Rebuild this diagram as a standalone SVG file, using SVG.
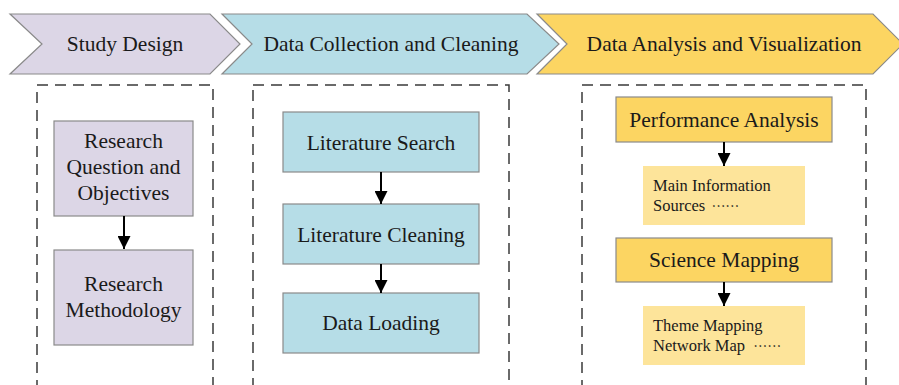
<svg xmlns="http://www.w3.org/2000/svg" width="899" height="385" viewBox="0 0 899 385">
<style>
.chev{stroke:#8a8a8a;stroke-width:1.2}
.box{stroke:#8a8a8a;stroke-width:1.2}
.dash{fill:none;stroke:#3a3a3a;stroke-width:1.5;stroke-dasharray:11 7}
.p{fill:#dcd6e6}.b{fill:#b6dde7}.y{fill:#fcd562}.ly{fill:#fde49a}
.conn line{stroke:#000;stroke-width:2}
</style>
<defs>
<marker id="ah" markerUnits="userSpaceOnUse" markerWidth="14" markerHeight="13" refX="13" refY="6.5" orient="auto">
<path d="M0,0 L13,6.5 L0,13 Z" fill="#000"/>
</marker>
</defs>
<g font-family="Liberation Serif, serif" font-size="21.5" text-anchor="middle" fill="#1a1a1a">
<g id="phase1"><polygon class="chev p" points="10,14 210,14 240,44 210,74 10,74 42,44"/><text x="125" y="51">Study Design</text></g>
<g id="phase2"><polygon class="chev b" points="222,14 527,14 559,44 527,74 222,74 252,44"/><text x="391" y="51">Data Collection and Cleaning</text></g>
<g id="phase3"><polygon class="chev y" points="537,14 873,14 903,44 873,74 537,74 567,44"/><text x="724" y="51">Data Analysis and Visualization</text></g>
<g id="group1"><rect class="dash" x="37" y="85" width="176" height="310"/></g>
<g id="group2"><rect class="dash" x="253" y="85" width="256" height="310"/></g>
<g id="group3"><rect class="dash" x="582" y="85" width="284" height="310"/></g>
<g id="rq"><rect class="box p" x="54" y="121" width="139" height="95"/><text x="123.5" y="148">Research</text><text x="123.5" y="174">Question and</text><text x="123.5" y="200">Objectives</text></g>
<g id="rm"><rect class="box p" x="54" y="250" width="139" height="95"/><text x="123.5" y="291">Research</text><text x="123.5" y="317">Methodology</text></g>
<g id="ls"><rect class="box b" x="283" y="112" width="196" height="60"/><text x="381" y="150">Literature Search</text></g>
<g id="lc"><rect class="box b" x="283" y="204" width="196" height="60"/><text x="381" y="242">Literature Cleaning</text></g>
<g id="dl"><rect class="box b" x="283" y="293" width="196" height="60"/><text x="381" y="330">Data Loading</text></g>
<g id="pa"><rect class="box y" x="616" y="97" width="216" height="45"/><text x="724" y="127">Performance Analysis</text></g>
<g id="mis"><rect class="ly" x="643" y="166" width="162" height="59"/><text x="653" y="191" font-size="16.5" text-anchor="start">Main Information</text><text x="653" y="211" font-size="16.5" text-anchor="start">Sources <tspan xml:lang="zh-CN" font-size="14" dx="2" font-family="Noto Sans CJK SC, sans-serif">……</tspan></text></g>
<g id="sm"><rect class="box y" x="616" y="238" width="216" height="44"/><text x="724" y="267">Science Mapping</text></g>
<g id="tm"><rect class="ly" x="643" y="306" width="162" height="59"/><text x="653" y="331" font-size="16.5" text-anchor="start">Theme Mapping</text><text x="653" y="351" font-size="16.5" text-anchor="start">Network Map <tspan xml:lang="zh-CN" font-size="14" dx="4" font-family="Noto Sans CJK SC, sans-serif">……</tspan></text></g>
</g>
<g id="connectors" class="conn">
<line x1="124" y1="216" x2="124" y2="249" marker-end="url(#ah)"/>
<line x1="381" y1="172" x2="381" y2="204" marker-end="url(#ah)"/>
<line x1="381" y1="264" x2="381" y2="293" marker-end="url(#ah)"/>
<line x1="724" y1="142" x2="724" y2="166" marker-end="url(#ah)"/>
<line x1="724" y1="282" x2="724" y2="306" marker-end="url(#ah)"/>
</g>
</svg>
